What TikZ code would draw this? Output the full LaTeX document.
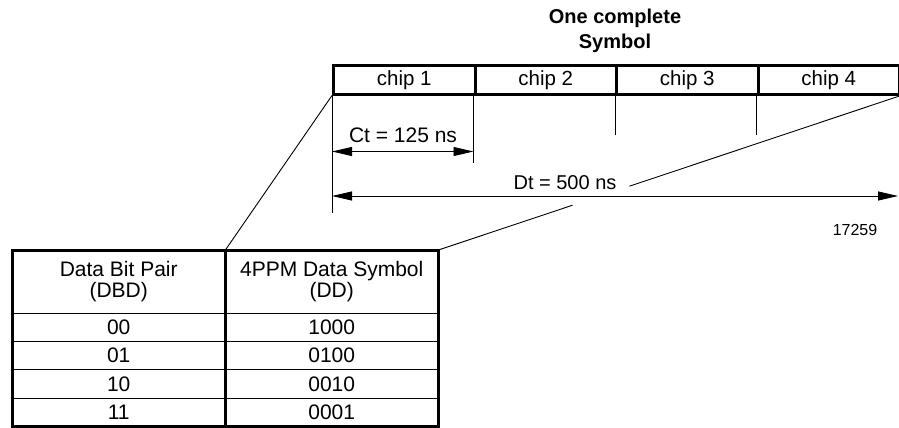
\documentclass[tikz,border=0pt]{standalone}
\usepackage{fontspec}
\setmainfont{Liberation Sans}
\usetikzlibrary{arrows.meta,calc}
\begin{document}
\begin{tikzpicture}[x=1pt,y=-1pt,
  lbl/.style={font=\fontsize{20}{24}\selectfont, inner sep=0pt},
  chipbox/.style={draw, line width=3pt, minimum width=141.5pt, minimum height=28.5pt,
    anchor=north west, inner sep=0pt, font=\fontsize{20.5}{24}\selectfont},
  cell/.style={minimum width=213pt, minimum height=28.25pt, inner sep=0pt,
    anchor=north west, align=center, font=\fontsize{21}{21}\selectfont},
  thinline/.style={line width=0.9pt},
  thickline/.style={line width=3pt},
  dim/.style={line width=0.9pt, {Triangle[length=20pt,width=9pt]}-{Triangle[length=20pt,width=9pt]}}
]
\useasboundingbox (0,0) rectangle (899,428);

% title
\node[lbl, font=\bfseries\fontsize{20}{25.5}\selectfont, align=center] (title) at (615,31) {One complete\\Symbol};

% chips
\node[chipbox] (c1) at (332,64) {chip 1};
\node[chipbox] (c2) at (473.5,64) {chip 2};
\node[chipbox] (c3) at (615,64) {chip 3};
\node[chipbox] (c4) at (756.5,64) {chip 4};

% ticks
\coordinate (t1) at (332,213);
\coordinate (t2) at (473.5,163);
\coordinate (t3) at (615,135);
\coordinate (t4) at (756.5,135);
\draw[thinline] (c1.south west) -- (t1);
\draw[thinline] (c2.south west) -- (t2);
\draw[thinline] (c3.south west) -- (t3);
\draw[thinline] (c4.south west) -- (t4);

% dimension arrows
\coordinate (cta) at (332,151.5);
\coordinate (ctb) at (473.5,151.5);
\coordinate (dta) at (332,196);
\coordinate (dtb) at (898,196);
\draw[dim] (cta) -- (ctb);
\draw[dim] (dta) -- (dtb);
\node[lbl, font=\fontsize{21}{24}\selectfont] (ct) at (403,135) {Ct = 125 ns};
\node[lbl] (dt) at (565,183) {Dt = 500 ns};
\node[lbl, font=\fontsize{16}{18}\selectfont] (fig) at (855,230) {17259};

% table
\node[cell, minimum height=63pt] (h1) at (12,250) {Data Bit Pair\\(DBD)};
\node[cell, minimum height=63pt] (h2) at (225,250) {4PPM Data Symbol\\(DD)};
\node[cell] (r1a) at (12,313) {00};
\node[cell] (r1b) at (225,313) {1000};
\node[cell] (r2a) at (12,341.25) {01};
\node[cell] (r2b) at (225,341.25) {0100};
\node[cell] (r3a) at (12,369.5) {10};
\node[cell] (r3b) at (225,369.5) {0010};
\node[cell] (r4a) at (12,397.75) {11};
\node[cell] (r4b) at (225,397.75) {0001};
\draw[thinline] (h1.south west) -- (h2.south east);
\draw[thinline] (r1a.south west) -- (r1b.south east);
\draw[thinline] (r2a.south west) -- (r2b.south east);
\draw[thinline] (r3a.south west) -- (r3b.south east);
\draw[thickline] (h1.north west) rectangle (r4b.south east);
\draw[thickline] (h1.north east) -- (r4a.south east);

% zoom connectors
\draw[thinline] (c1.south west) -- (h1.north east);
\draw[thinline] (h2.north east) -- ($(h2.north east)!0.29!(c4.south east)$);
\draw[thinline] ($(h2.north east)!0.413!(c4.south east)$) -- (c4.south east);
\end{tikzpicture}
\end{document}
